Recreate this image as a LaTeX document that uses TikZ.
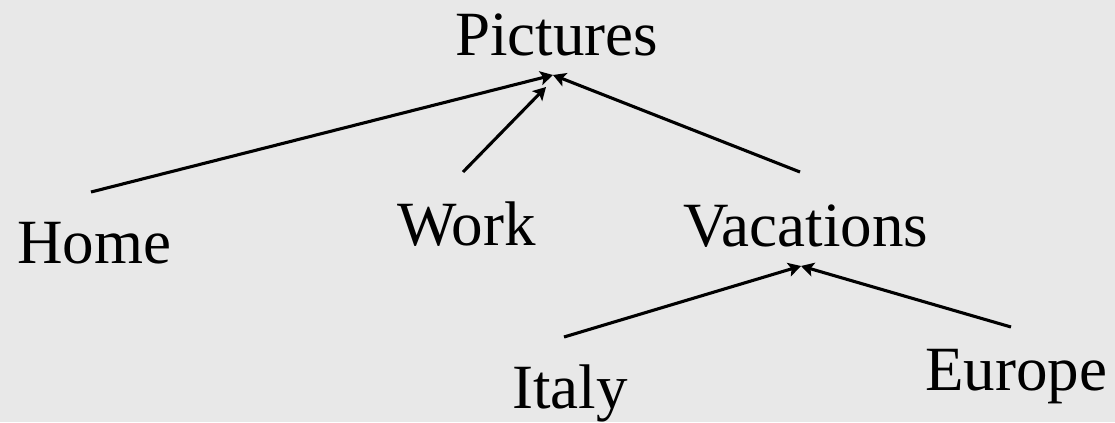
\documentclass[tikz,border=0pt]{standalone}
\usepackage{fontspec}
\setmainfont{Liberation Serif}
\usetikzlibrary{arrows.meta}
\definecolor{slidegray}{HTML}{E8E8E8}
\tikzset{
  folder/.style={anchor=base west, inner sep=0pt, font=\fontsize{44.8}{50}\selectfont},
  link/.style={line width=2.2pt, -{Stealth[length=9pt,width=10pt,inset=2pt]}}
}
\begin{document}
\begin{tikzpicture}[x=0.025cm, y=-0.025cm]
\fill[slidegray] (0,0) rectangle (1115,422);
\useasboundingbox (0,0) rectangle (1115,422);
\node[folder] (pictures) at (455, 55) {Pictures};
\node[folder] (home) at (17, 263) {Home};
\node[folder] (work) at (397, 245) {Work};
\node[folder] (vacations) at (683, 246) {Vacations};
\node[folder] (italy) at (512, 408) {Italy};
\node[folder] (europe) at (925, 390) {Europe};
\coordinate (pictures-in) at (553, 75);
\coordinate (pictures-work) at (546, 87);
\coordinate (vacations-in) at (801, 266);
\coordinate (home-out) at (91, 192);
\coordinate (work-out) at (463, 172);
\coordinate (vacations-out) at (800, 172);
\coordinate (italy-out) at (564, 337);
\coordinate (europe-out) at (1011, 327);
\draw[link] (home-out) -- (pictures-in);
\draw[link] (work-out) -- (pictures-work);
\draw[link] (vacations-out) -- (pictures-in);
\draw[link] (italy-out) -- (vacations-in);
\draw[link] (europe-out) -- (vacations-in);
\end{tikzpicture}
\end{document}
